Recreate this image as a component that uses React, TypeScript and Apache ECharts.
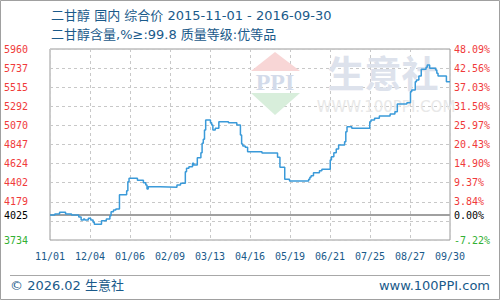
import React, { useEffect, useRef } from 'react';
import * as echarts from 'echarts';

const titleLine1 = '二甘醇 国内 综合价 2015-11-01 - 2016-09-30';
const titleLine2 = '二甘醇含量,%≥:99.8 质量等级:优等品';
const footerLeft = '© 2026.02 生意社';
const footerRight = 'www.100PPI.com';
const watermarkCn = '生意社';
const watermarkEn = 'WWW.100PPI.COM';

const startDate = '2015-11-01';
const endDate = '2016-09-30';

const priceDates = [
  '2015-11-01', '2015-11-05', '2015-11-09', '2015-11-14', '2015-11-19', '2015-11-25',
  '2015-11-27', '2015-11-29', '2015-11-30', '2015-12-03', '2015-12-05', '2015-12-07',
  '2015-12-08', '2015-12-14', '2015-12-18', '2015-12-21', '2015-12-22', '2015-12-24',
  '2015-12-26', '2015-12-29', '2016-01-04', '2016-01-05', '2016-01-06', '2016-01-13',
  '2016-01-18', '2016-01-20', '2016-01-21', '2016-01-22', '2016-02-01', '2016-02-15',
  '2016-02-18', '2016-02-22', '2016-02-23', '2016-02-25', '2016-02-28', '2016-02-29',
  '2016-03-03', '2016-03-06', '2016-03-07', '2016-03-08', '2016-03-09', '2016-03-10',
  '2016-03-14', '2016-03-15', '2016-03-16', '2016-03-18', '2016-03-21', '2016-03-29',
  '2016-04-05', '2016-04-08', '2016-04-09', '2016-04-10', '2016-04-12', '2016-04-14',
  '2016-04-26', '2016-05-09', '2016-05-11', '2016-05-15', '2016-05-19', '2016-06-04',
  '2016-06-05', '2016-06-06', '2016-06-08', '2016-06-13', '2016-06-15', '2016-06-22',
  '2016-06-23', '2016-06-25', '2016-06-27', '2016-06-29', '2016-07-04', '2016-07-05',
  '2016-07-06', '2016-07-10', '2016-07-25', '2016-07-26', '2016-07-29', '2016-08-02',
  '2016-08-11', '2016-08-15', '2016-08-17', '2016-08-25', '2016-08-28', '2016-08-29',
  '2016-09-01', '2016-09-02', '2016-09-04', '2016-09-06', '2016-09-10', '2016-09-11',
  '2016-09-13', '2016-09-18', '2016-09-19', '2016-09-20', '2016-09-27', '2016-09-30',
];

const priceValues = [
  4025, 4037, 4057, 4037, 4025, 4002,
  3967, 3979, 3967, 3987, 3967, 3940,
  3917, 3959, 3979, 4017, 4064, 4084,
  4095, 4262, 4309, 4414, 4453, 4430,
  4402, 4375, 4328, 4355, 4348, 4375,
  4395, 4530, 4570, 4588, 4628, 4608,
  4693, 4752, 4861, 4908, 5016, 5133,
  5101, 5074, 5016, 5036, 5113, 5101,
  5074, 4958, 4853, 4830, 4814, 4763,
  4748, 4698, 4581, 4441, 4422, 4441,
  4465, 4483, 4518, 4542, 4558, 4666,
  4705, 4752, 4795, 4841, 4880, 4996,
  5054, 5036, 5113, 5133, 5152, 5179,
  5202, 5229, 5319, 5334, 5462, 5482,
  5579, 5599, 5645, 5723, 5747, 5774,
  5735, 5715, 5677, 5645, 5579, 5579,
];

const xTickLabels = ['11/01', '12/04', '01/06', '02/09', '03/13', '04/16', '05/19', '06/21', '07/25', '08/27', '09/30'];

const yGridValues = [3734, 3956.6, 4179.2, 4401.8, 4624.4, 4847, 5069.6, 5292.2, 5514.8, 5737.4, 5960];
const baseline = 4024.6;
const yLabelValues = [3734, 4024.6, 4179.2, 4401.8, 4624.4, 4847, 5069.6, 5292.2, 5514.8, 5737.4, 5960];
const yLeftLabels = ['3734', '4025', '4179', '4402', '4624', '4847', '5070', '5292', '5515', '5737', '5960'];
const yRightLabels = ['-7.22%', '0.00%', '3.84%', '9.37%', '14.90%', '20.43%', '25.97%', '31.50%', '37.03%', '42.56%', '48.09%'];

const DAY = 86400000;
function toDay(s: string): number {
  const [y, m, d] = s.split('-').map(Number);
  const [y0, m0, d0] = startDate.split('-').map(Number);
  return Math.round((Date.UTC(y, m - 1, d) - Date.UTC(y0, m0 - 1, d0)) / DAY);
}

function nearestIdx(v: number): number {
  let best = 0;
  for (let i = 1; i < yLabelValues.length; i++) {
    if (Math.abs(yLabelValues[i] - v) < Math.abs(yLabelValues[best] - v)) best = i;
  }
  return best;
}

function labelColor(v: number): string {
  if (Math.abs(v - baseline) < 1) return '#000000';
  return v > baseline ? '#f03a3a' : '#33b033';
}

const TEXT_BLUE = '#1a5a8a';
const MONO = "'DejaVu Sans Mono', monospace";
const SANS = "'DejaVu Sans', 'Noto Sans CJK SC', sans-serif";

export default function App() {
  const ref = useRef<HTMLDivElement>(null);
  useEffect(() => {
    if (!ref.current) return;
    const chart = echarts.init(ref.current, undefined, { renderer: 'svg' });
    const totalDays = toDay(endDate);
    const xInterval = totalDays / (xTickLabels.length - 1);
    const yMin = yGridValues[0];
    const yMax = yGridValues[yGridValues.length - 1];

    const option: any = {
      animation: false,
      backgroundColor: '#ffffff',
      grid: {
        left: 50, right: 50, top: 49, bottom: 60,
        show: true, borderColor: '#9a9a9a', borderWidth: 1, backgroundColor: 'transparent',
      },
      xAxis: {
        type: 'value', min: 0, max: totalDays, interval: xInterval,
        axisLine: { show: false }, axisTick: { show: false },
        splitLine: { show: true, lineStyle: { color: '#c8c8c8', type: [3, 3], width: 1 } },
        axisLabel: {
          margin: 11, color: TEXT_BLUE, fontSize: 10, fontFamily: MONO,
          showMinLabel: true, showMaxLabel: true,
          formatter: (v: number) => xTickLabels[Math.round(v / xInterval)] ?? '',
        },
      },
      yAxis: [
        {
          type: 'value', min: yMin, max: yMax, position: 'left',
          axisLine: { show: false },
          axisTick: { show: false, customValues: yGridValues },
          splitLine: { show: true, lineStyle: { color: '#c8c8c8', type: [3, 3], width: 1 } },
          axisLabel: {
            customValues: yLabelValues, margin: 22, fontSize: 10, fontFamily: MONO,
            color: (v: any) => labelColor(Number(v)),
            formatter: (v: number) => yLeftLabels[nearestIdx(Number(v))],
          },
        },
        {
          type: 'value', min: yMin, max: yMax, position: 'right',
          axisLine: { show: false },
          axisTick: { show: false, customValues: yLabelValues },
          splitLine: { show: false },
          axisLabel: {
            customValues: yLabelValues, margin: 4, fontSize: 10, fontFamily: MONO,
            color: (v: any) => labelColor(Number(v)),
            formatter: (v: number) => yRightLabels[nearestIdx(Number(v))],
          },
        },
      ],
      series: [
        {
          type: 'line', step: 'end', yAxisIndex: 0, z: 5,
          data: priceDates.map((d, i) => [toDay(d), priceValues[i]]),
          symbol: 'none',
          lineStyle: { color: '#3a9ad9', width: 1.5 },
          itemStyle: { color: '#3a9ad9' },
          markLine: {
            silent: true, symbol: ['none', 'none'], animation: false,
            label: { show: false },
            lineStyle: { color: '#a0a0a0', width: 2, type: 'solid' },
            emphasis: { disabled: true },
            data: [{ yAxis: baseline }],
          },
        },
      ],
      graphic: [
        { type: 'rect', z: 0, shape: { x: 0.5, y: 0.5, width: 499, height: 299 }, style: { fill: 'none', stroke: '#a0a0a0', lineWidth: 1 } },
        { type: 'text', z: 10, x: 51, y: 15, style: { text: titleLine1, fill: TEXT_BLUE, fontSize: 13, fontFamily: SANS, textVerticalAlign: 'middle' } },
        { type: 'text', z: 10, x: 51, y: 34, style: { text: titleLine2, fill: TEXT_BLUE, fontSize: 13, fontFamily: SANS, textVerticalAlign: 'middle' } },
        { type: 'line', z: 10, shape: { x1: 10, y1: 275.5, x2: 490, y2: 275.5 }, style: { stroke: '#a8a8a8', lineWidth: 1 } },
        { type: 'text', z: 10, x: 10, y: 285, style: { text: footerLeft, fill: TEXT_BLUE, fontSize: 13, fontFamily: SANS, textVerticalAlign: 'middle' } },
        { type: 'text', z: 10, x: 490, y: 285, style: { text: footerRight, fill: TEXT_BLUE, fontSize: 13, fontFamily: SANS, textAlign: 'right', textVerticalAlign: 'middle' } },
        { type: 'polygon', z: 1, shape: { points: [[275, 52], [300, 71], [251, 71]] }, style: { fill: '#f8d6d6' } },
        { type: 'text', z: 1, x: 275, y: 82, style: { text: 'PPI', fill: '#d3dbea', fontSize: 24, fontWeight: 'bold', fontFamily: "'Liberation Serif', serif", textAlign: 'center', textVerticalAlign: 'middle' } },
        { type: 'polygon', z: 1, shape: { points: [[251, 93], [300, 93], [275, 115]] }, style: { fill: '#d8eedb' } },
        { type: 'text', z: 1, x: 383, y: 72, style: { text: watermarkCn, fill: '#dde2ec', fontSize: 37, fontWeight: 'bold', fontFamily: "'Noto Sans CJK SC', sans-serif", textAlign: 'center', textVerticalAlign: 'middle' } },
        { type: 'text', z: 1, x: 386, y: 107, style: { text: watermarkEn, fill: '#e8e8e8', fontSize: 15, fontFamily: "'DejaVu Sans', sans-serif", textAlign: 'center', textVerticalAlign: 'middle' } },
      ],
    };
    chart.setOption(option);
    return () => chart.dispose();
  }, []);
  return <div ref={ref} style={{ position: 'absolute', left: 0, top: 0, width: 500, height: 300 }} />;
}
